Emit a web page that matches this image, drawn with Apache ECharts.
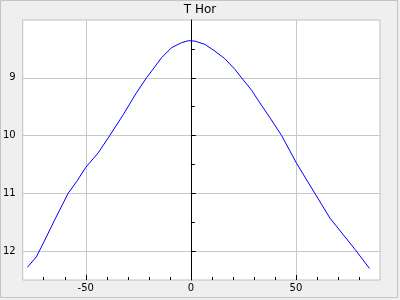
<!DOCTYPE html>
<html>
<head>
<meta charset="utf-8">
<script src="https://cdn.jsdelivr.net/npm/echarts@6/dist/echarts.min.js"></script>
<style>
html,body{margin:0;padding:0;background:#fff;}
#c{width:400px;height:300px;}
</style>
</head>
<body>
<div id="c"></div>
<script>
var titleText = 'T Hor';
var xValues = [-77.8, -73.5, -69.5, -64.8, -58.4, -54.4, -50.0, -44.1, -38.6, -32.2, -25.9, -21.1, -18.7, -13.95, -9.2, -4.4, -1.2, 1.9, 6.7, 11.4, 16.2, 21.0, 24.1, 28.9, 31.3, 37.6, 43.2, 50.3, 59.0, 66.2, 72.6, 78.1, 85.0];
var yValues = [12.28, 12.10, 11.81, 11.46, 11.00, 10.80, 10.55, 10.30, 10.00, 9.64, 9.26, 9.00, 8.885, 8.653, 8.479, 8.392, 8.358, 8.365, 8.422, 8.538, 8.67, 8.856, 9.00, 9.215, 9.35, 9.69, 10.00, 10.48, 11.00, 11.43, 11.72, 11.97, 12.30];
var xMajorTicks = [-50, 0, 50];
var xMinorTicks = [-70, -60, -40, -30, -20, -10, 10, 20, 30, 40, 60, 70, 80];
var yMajorTicks = [9, 10, 11, 12];
var yMinorTicks = [8.5, 9.5, 10.5, 11.5];
var xRange = [-80, 90];
var yRange = [8, 12.5];

var data = xValues.map(function (x, i) { return [x, yValues[i]]; });
var font = 'DejaVu Sans';
var chart = echarts.init(document.getElementById('c'), null, {renderer: 'canvas'});
chart.setOption({
  animation: false,
  backgroundColor: '#efefef',
  graphic: [{
    type: 'rect', z: 100, silent: true,
    shape: {x: 0.5, y: 0.5, width: 397, height: 297},
    style: {fill: 'transparent', stroke: '#c4c4c4', lineWidth: 1}
  }],
  title: {
    text: titleText, left: 'center', top: 4, padding: 0,
    textStyle: {fontFamily: font, fontSize: 12, fontWeight: 'normal', color: '#000'}
  },
  grid: {
    left: 20, right: 20, top: 20, bottom: 20, show: true,
    backgroundColor: '#ffffff', borderColor: '#c0c0c0', borderWidth: 1
  },
  xAxis: [{
    type: 'value', min: xRange[0], max: xRange[1], position: 'bottom',
    axisLine: {show: false, onZero: false},
    axisTick: {show: true, inside: true, length: 5, customValues: xMajorTicks, lineStyle: {color: '#000'}},
    axisLabel: {customValues: xMajorTicks, fontFamily: font, fontSize: 10, color: '#000', margin: 3},
    splitLine: {show: true, lineStyle: {color: '#c8c8c8', width: 1}}
  }, {
    type: 'value', min: xRange[0], max: xRange[1], position: 'bottom', offset: 0,
    axisLine: {show: false, onZero: false},
    axisTick: {show: true, inside: true, length: 3, customValues: xMinorTicks, lineStyle: {color: '#000'}},
    axisLabel: {show: false},
    splitLine: {show: false}
  }],
  yAxis: [{
    type: 'value', min: yRange[0], max: yRange[1], inverse: true, position: 'left',
    axisLine: {show: true, onZero: true, onZeroAxisIndex: 0, lineStyle: {color: '#000', width: 1}},
    axisTick: {show: true, inside: true, length: 5, customValues: yMajorTicks, lineStyle: {color: '#000'}},
    axisLabel: {customValues: yMajorTicks, fontFamily: font, fontSize: 10, color: '#000', margin: 7},
    splitLine: {show: true, lineStyle: {color: '#c8c8c8', width: 1}}
  }, {
    type: 'value', min: yRange[0], max: yRange[1], inverse: true, position: 'left',
    axisLine: {show: false, onZero: true, onZeroAxisIndex: 0},
    axisTick: {show: true, inside: true, length: 4, customValues: yMinorTicks, lineStyle: {color: '#000'}},
    axisLabel: {show: false},
    splitLine: {show: false}
  }],
  series: [{
    type: 'line', xAxisIndex: 0, yAxisIndex: 0, data: data,
    showSymbol: false, symbol: 'none', smooth: false,
    lineStyle: {color: '#0000ff', width: 1}
  }]
});
</script>
</body>
</html>
